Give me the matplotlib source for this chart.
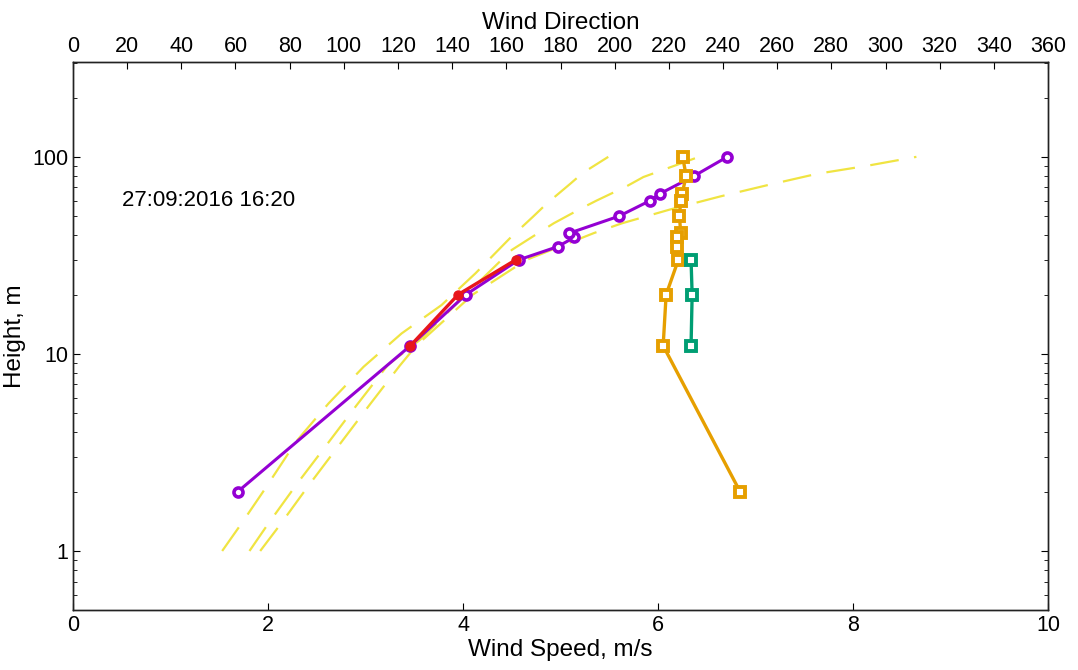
import numpy as np
import matplotlib
matplotlib.use("Agg")
import matplotlib.pyplot as plt
from matplotlib.ticker import LogLocator, NullFormatter, FixedLocator

plt.rcParams['font.family'] = ['Liberation Sans', 'DejaVu Sans']

# measured wind speed profile (purple, hollow circles)
speed_h = [2, 11, 20, 30, 35, 39, 41, 50, 60, 65, 80, 100]
speed_u = [1.69, 3.46, 4.03, 4.57, 4.97, 5.14, 5.09, 5.60, 5.92, 6.02, 6.37, 6.71]

# second speed profile (red, filled)
red_h = [11, 20, 30]
red_u = [3.46, 3.95, 4.54]

# wind direction profiles (top axis)
dir_h = [100, 80, 65, 60, 50, 41, 39, 35, 30, 20, 11, 2]
dir_deg = [225.1, 226.4, 224.9, 224.4, 223.9, 224.4, 222.9, 222.9, 223.5, 219.0, 217.9, 246.3]
dir2_h = [30, 20, 11]
dir2_deg = [228.2, 228.6, 228.2]

# reference profiles (yellow dashed)
refA_h = [1, 1.36, 2, 3.6, 5.6, 8.6, 12.7, 17.7, 25.7, 38.6, 49.8, 58, 73, 83, 100]
refA_u = [1.53, 1.72, 1.95, 2.29, 2.62, 2.98, 3.37, 3.78, 4.13, 4.48, 4.72, 4.86, 5.10, 5.23, 5.49]
refB_h = [1, 1.37, 2.2, 3.5, 5.5, 8.8, 11.8, 20, 33.7, 41, 46, 55, 60, 71, 79, 100]
refB_u = [1.81, 2.0, 2.30, 2.61, 2.91, 3.23, 3.56, 4.03, 4.5, 4.77, 4.93, 5.22, 5.37, 5.68, 5.85, 6.42]
refC_h = [1, 1.35, 2.16, 3.45, 5.5, 8.7, 11, 20, 30, 41, 46, 54, 63, 72, 82, 90, 100]
refC_u = [1.92, 2.12, 2.42, 2.73, 3.04, 3.35, 3.52, 4.1, 4.65, 5.34, 5.63, 6.12, 6.64, 7.13, 7.63, 8.14, 8.65]

purple = '#9400D3'
red = '#E8161B'
orange = '#E69F00'
green = '#009E73'
yellow = '#F0E442'

fig = plt.figure(figsize=(10.78, 6.70), dpi=100)
ax = fig.add_axes([0.0677, 0.0896, 0.9045, 0.8179])

for h, u in [(refA_h, refA_u), (refB_h, refB_u), (refC_h, refC_u)]:
    ax.plot(u, h, color=yellow, lw=1.6, linestyle=(0, (13, 7)), zorder=1)

ax.plot(speed_u, speed_h, color=purple, lw=2.2, marker='o', ms=6.5,
        mfc='white', mec=purple, mew=2.6, zorder=3)
ax.plot(red_u, red_h, color=red, lw=2.4, marker='o', ms=6.5, mfc=red, mec=red, zorder=4)

ax.set_yscale('log')
ax.set_xlim(0, 10)
ax.set_ylim(0.502, 303)
ax.set_xticks([0, 2, 4, 6, 8, 10])
ax.yaxis.set_major_locator(FixedLocator([1, 10, 100]))
ax.set_yticklabels(['1', '10', '100'])
ax.yaxis.set_minor_locator(LogLocator(base=10, subs=np.arange(2, 10)))
ax.yaxis.set_minor_formatter(NullFormatter())
ax.tick_params(axis='both', which='both', direction='in', labelsize=15.5)
ax.tick_params(axis='y', which='both', right=True)
ax.tick_params(axis='x', which='both', top=False)
ax.tick_params(which='major', length=5)
ax.tick_params(which='minor', length=3)
ax.set_xlabel('Wind Speed, m/s', fontsize=17.5, labelpad=2)
ax.set_ylabel('Height, m', fontsize=17.5, labelpad=4)

ax.text(0.5, 60, '27:09:2016 16:20', fontsize=16, va='center', ha='left')

ax2 = ax.twiny()
ax2.plot(dir_deg, dir_h, color=orange, lw=2.4, marker='s', ms=7.5,
         mfc='white', mec=orange, mew=2.8, zorder=2)
ax2.plot(dir2_deg, dir2_h, color=green, lw=2.4, marker='s', ms=7.5,
         mfc='white', mec=green, mew=2.8, zorder=2)
ax2.set_xlim(0, 360)
ax2.set_xticks(np.arange(0, 361, 20))
ax2.tick_params(axis='x', direction='in', labelsize=15.5, length=5)
ax2.set_xlabel('Wind Direction', fontsize=17.5, labelpad=5)

for a in (ax, ax2):
    for s in a.spines.values():
        s.set_color('#222222')
        s.set_linewidth(1.0)

fig.savefig('out.png', dpi=100)
